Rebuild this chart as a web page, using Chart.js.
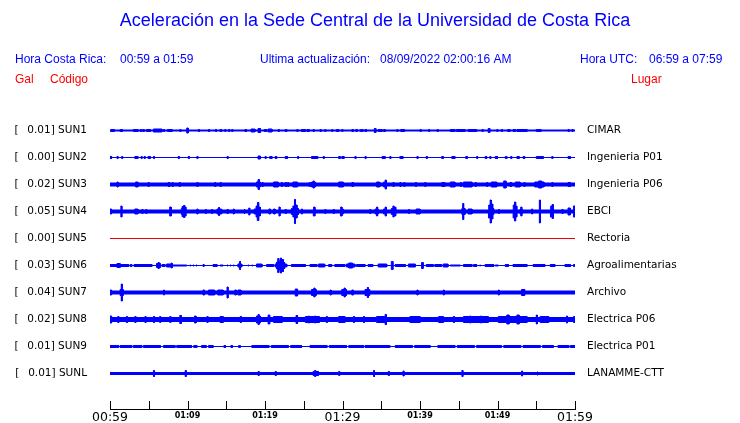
<!DOCTYPE html>
<html>
<head>
<meta charset="utf-8">
<title>Aceleración Sede Central UCR</title>
<script src="https://cdn.jsdelivr.net/npm/chart.js@4.4.1/dist/chart.umd.min.js"></script>
<style>
  html, body { margin: 0; padding: 0; background: #fff; }
  #wrap { width: 740px; height: 423px; }
</style>
</head>
<body>
<div id="wrap"><canvas id="chart" width="740" height="423"></canvas></div>
<script>
// station codes, peak value (gal) and place, top to bottom
const codes = ['SUN1', 'SUN2', 'SUN3', 'SUN4', 'SUN5', 'SUN6', 'SUN7', 'SUN8', 'SUN9', 'SUNL']
const gal = ['0.01', '0.00', '0.02', '0.05', '0.00', '0.03', '0.04', '0.02', '0.01', '0.01']
const places = ['CIMAR', 'Ingenieria P01', 'Ingenieria P06', 'EBCI', 'Rectoria', 'Agroalimentarias',
  'Archivo', 'Electrica P06', 'Electrica P01', 'LANAMME-CTT']

// minutes 0..60 after 00:59, one label every 10 minutes
const timeLabels = ['00:59', '01:09', '01:19', '01:29', '01:39', '01:49', '01:59']

// background noise half-height of each trace
const baseAmp = [1, 0.5, 2, 2, 0.5, 0.5, 2, 2.5, 0.5, 1.5]

// bursts: [start min, end min, half-height] or [min, half-height] for a single spike
const sun1 = [[0.1, 0.55, 1.5], [1.3, 1.6, 1.5], [3.0, 3.6, 1.5], [3.9, 1.5], [4.2, 4.4, 1.5], [4.7, 5.2, 1.5],
  [5.6, 6.7, 2], [6.9, 1.5], [7.4, 8.0, 1.5], [9.0, 1.5], [9.9, 10.1, 3], [11.4, 1.5], [12.7, 1.5], [13.6, 1.5],
  [14.2, 14.4, 1.5], [14.8, 1.5], [15.3, 1.5], [15.7, 1.5], [17.4, 17.6, 1.5], [18.2, 18.7, 2], [19.1, 19.4, 2.5],
  [19.9, 20.2, 1.5], [20.4, 20.9, 2], [21.7, 1.5], [22.6, 22.8, 1.5], [24.1, 1.5], [24.7, 25.2, 1.5],
  [25.4, 25.7, 1.5], [26.2, 1.5], [27.1, 1.5], [27.7, 1.5], [28.6, 1.5], [29.2, 29.5, 1.5], [29.9, 1.5],
  [31.2, 31.4, 1.5], [31.7, 31.9, 1.5], [32.3, 1.5], [32.5, 1.5], [32.9, 33.1, 1.5], [34.1, 34.3, 2.5],
  [34.6, 35.1, 1.5], [35.3, 35.5, 1.5], [37.0, 1.5], [37.5, 38.0, 1.5], [40.0, 1.5], [41.1, 1.5], [42.2, 1.5],
  [43.9, 44.5, 1.5], [44.7, 45.8, 1.5], [46.2, 47.3, 1.5], [48.0, 1.5], [48.8, 49.0, 2.5], [49.9, 1.5], [50.5, 1.5],
  [51.3, 51.6, 1.5], [52.0, 52.3, 1.5], [52.5, 53.8, 1.5], [55.0, 55.6, 1.5], [59.1, 1.5], [59.6, 1.5]]
const sun2 = [[0, 0.2, 1.5], [0.9, 1.5], [1.5, 1.5], [3.2, 3.6, 1.5], [4.0, 1.5], [4.4, 1.5], [4.9, 5.2, 1.5], [5.6, 1.5],
  [8.8, 1.5], [10.1, 1.5], [11.2, 1.5], [15.1, 1.5], [19.1, 19.4, 2], [20.0, 1.5], [20.6, 20.9, 1.5], [21.3, 21.5, 1.5],
  [22.6, 22.9, 1.5], [24.2, 1.5], [26.0, 26.8, 1.5], [27.5, 1.5], [29.5, 29.7, 1.5], [29.9, 30.2, 1.5], [31.6, 1.5],
  [32.9, 1.5], [35.1, 35.5, 1.5], [36.1, 1.5], [37.4, 37.8, 1.5], [39.6, 1.5], [40.8, 1.5], [42.8, 43.0, 1.5],
  [44.1, 44.5, 1.5], [45.9, 46.1, 1.5], [47.3, 1.5], [48.4, 48.6, 1.5], [49.0, 1.5], [49.7, 50.0, 1.5], [51.0, 51.2, 1.5],
  [51.7, 1.5], [52.5, 52.8, 1.5], [53.3, 53.5, 1.5], [55.0, 55.9, 1.5], [57.0, 1.5], [59.1, 59.4, 1.5]]
const sun3 = [[0.9, 3], [3.3, 3.6, 3], [4.9, 2.5], [7.5, 7.7, 2.5], [8.0, 2.5], [8.9, 2.5], [11.2, 2.5], [13.5, 2.5],
  [14.2, 2.5], [18.9, 19.4, 3], [19.1, 19.25, 5.5], [19.6, 2.5], [21.1, 21.7, 3], [22.1, 2.5], [22.6, 2.5], [22.9, 2.5],
  [23.6, 24.2, 3], [25.7, 2.5], [26.0, 26.5, 3], [26.2, 26.35, 4], [29.5, 30.1, 3], [31.2, 31.4, 2.5], [34.4, 34.8, 3],
  [35.3, 35.7, 3], [35.5, 35.65, 5], [36.5, 2.5], [37.4, 2.5], [37.9, 2.5], [39.4, 2.5], [40.6, 2.5], [42.8, 43.2, 2.5],
  [43.9, 44.5, 3], [45.2, 2.5], [45.6, 46.7, 3], [47.1, 2.5], [48.6, 2.5], [49.2, 49.9, 3], [50.8, 51.1, 4],
  [51.6, 51.8, 2.5], [52.3, 52.9, 3], [53.4, 2.5], [54.8, 56.0, 3], [55.3, 55.7, 4], [57.0, 2.5], [59.1, 59.4, 2.5]]
const sun4 = [[0, 0.2, 3], [1.4, 6], [3.2, 3.6, 3], [4.1, 2.5], [4.6, 2.5], [7.7, 7.9, 5], [9.2, 9.8, 3.5], [9.3, 5.5],
  [9.5, 6.5], [9.65, 5], [11.2, 3], [12.3, 2.5], [13.1, 2.5], [13.8, 14.4, 3], [14.0, 4.5], [15.1, 2.5], [15.9, 3],
  [17.3, 17.4, 3], [17.9, 4], [18.6, 19.4, 3], [18.85, 6], [19.05, 9.5], [19.25, 5], [20.5, 20.7, 3], [21.1, 21.3, 3],
  [21.8, 5], [22.6, 2.5], [23.4, 24.3, 3.5], [23.6, 6], [23.8, 12.5], [24.0, 7], [24.7, 3], [26.2, 26.5, 3], [26.3, 5],
  [27.7, 2.5], [28.8, 2.5], [29.7, 30.1, 3], [29.8, 5], [33.5, 2.5], [34.2, 34.6, 3], [34.4, 5], [35.3, 35.7, 3],
  [35.5, 5], [36.3, 36.9, 3.5], [36.5, 6], [36.7, 5], [38.5, 2.5], [39.5, 40.0, 3], [45.4, 45.8, 3.5], [45.5, 8.5],
  [46.2, 46.7, 3], [48.8, 49.5, 3.5], [48.9, 7], [49.05, 12], [49.25, 8], [50.1, 2.5], [52.0, 52.5, 3.5], [52.05, 7],
  [52.2, 10], [52.35, 6], [52.9, 53.2, 3], [53.0, 5], [54.4, 3], [55.4, 12], [56.8, 57.2, 3.5], [56.9, 6], [57.05, 7.5],
  [58.3, 2.5], [59.1, 59.4, 4], [59.8, 60, 6]]
const sun5 = []
const sun6 = [[0, 2.4, 1.5], [0.9, 1.3, 2.5], [2.6, 2.8, 1.5], [3.1, 5.4, 1.5], [6.0, 6.5, 2.5], [6.2, 3.5], [6.7, 7.1, 1.5],
  [7.3, 8.0, 2], [7.9, 3], [8.0, 9.9, 1], [10.3, 1], [10.7, 1], [11.1, 1], [12.0, 1.5], [13.3, 13.8, 1.5], [14.2, 14.6, 1],
  [15.1, 1], [15.5, 1], [15.9, 1], [16.5, 17.0, 2], [16.7, 4.5], [17.8, 1], [18.3, 1], [18.9, 19.6, 2], [20.2, 21.1, 1.5],
  [21.3, 22.8, 2], [21.5, 4], [21.65, 7.5], [21.85, 5], [22.0, 8], [22.2, 6.5], [22.4, 3.5], [23.4, 25.2, 1.5],
  [25.8, 26.7, 1.5], [26.9, 27.7, 2], [28.2, 28.6, 1.5], [29.0, 30.3, 1.5], [30.5, 31.6, 2], [30.8, 31.3, 3],
  [31.8, 32.9, 1.5], [33.3, 33.9, 1.5], [34.6, 35.7, 2], [36.3, 36.5, 4.5], [36.8, 38.1, 1.5], [38.5, 39.4, 2],
  [40.2, 40.4, 3.5], [40.8, 41.7, 1.5], [41.9, 42.8, 1.5], [43.0, 43.6, 2], [43.9, 45.2, 1], [45.6, 46.7, 1.5],
  [46.9, 47.3, 1.5], [47.7, 1], [48.4, 49.5, 1.5], [49.7, 50.1, 1], [51.0, 51.4, 1.5], [52.0, 53.8, 1.5],
  [54.6, 56.1, 1.5], [56.8, 57.4, 1.5], [58.7, 59.4, 1.5], [59.8, 60, 1.5]]
const sun7 = [[0, 0.2, 3], [1.3, 1.7, 3.5], [1.45, 9], [6.9, 3], [12.0, 12.2, 3], [12.7, 13.5, 3], [13.9, 14.6, 3],
  [15.1, 6], [16.1, 16.3, 3], [16.5, 16.9, 3], [23.9, 24.2, 4], [26.0, 26.6, 3.5], [26.3, 5], [28.4, 3],
  [29.9, 30.5, 3.5], [30.2, 5], [31.2, 31.4, 3], [32.9, 33.5, 3.5], [33.2, 5.5], [39.6, 3], [43.0, 3], [50.1, 3],
  [53.1, 53.5, 3.5]]
const sun8 = [[0, 0.2, 4], [1.0, 3.5], [2.1, 3.5], [3.2, 3.5], [4.5, 3.5], [5.6, 3.5], [6.4, 3.5], [7.7, 3.5],
  [9.0, 9.2, 4.5], [10.9, 11.1, 4], [12.5, 3.5], [14.2, 14.6, 3.5], [16.8, 3.5], [18.9, 19.4, 4], [19.1, 5.5],
  [20.4, 20.6, 5], [21.1, 22.2, 3.5], [24.0, 24.2, 4.5], [25.2, 27.0, 3.5], [25.6, 4], [26.4, 4], [27.9, 3.5],
  [29.5, 30.3, 3.5], [31.4, 3.5], [32.7, 3.5], [34.4, 35.7, 3.5], [35.5, 5.5], [38.7, 40.0, 3.5], [42.4, 43.0, 3.5],
  [44.3, 3.5], [45.6, 48.8, 3.5], [46.4, 4], [47.8, 4], [50.1, 53.8, 3.5], [51.2, 51.5, 5], [52.5, 52.8, 5], [55.0, 5],
  [55.5, 56.6, 3.5], [58.9, 4], [59.8, 3.5]]
const sun9 = [[0, 1.1, 1.5], [1.3, 2.8, 1.5], [3.0, 4.1, 1.5], [4.3, 6.5, 1.5], [6.9, 8.4, 1.5], [8.6, 10.5, 1.5],
  [10.8, 11.2, 1.5], [11.8, 12.4, 1.5], [12.7, 13.3, 1.5], [14.7, 14.9, 1.5], [15.6, 15.8, 1.5], [16.6, 16.8, 1.5],
  [18.3, 20.5, 1.5], [20.8, 23.0, 1.5], [23.3, 24.7, 1.5], [25.8, 28.0, 1.5], [28.3, 30.5, 1.5], [30.8, 32.7, 1.5],
  [32.9, 36.1, 1.5], [36.8, 39.0, 1.5], [39.3, 41.3, 1.5], [42.3, 44.5, 1.5], [44.8, 47.0, 1.5], [47.3, 50.5, 1.5],
  [50.8, 53.0, 1.5], [53.3, 55.5, 1.5], [55.8, 57.2, 1.5], [57.8, 59.2, 1.5], [59.4, 60, 1.5]]
const sunL = [[5.6, 3.5], [9.7, 3.5], [19.1, 2.5], [21.3, 2.5], [26.2, 26.9, 2.5], [26.4, 3.5], [29.5, 2.5], [34.0, 3.5],
  [35.9, 2.5], [37.8, 3], [45.4, 3.5], [53.1, 3], [55.1, 2]]
const bursts = [sun1, sun2, sun3, sun4, sun5, sun6, sun7, sun8, sun9, sunL]

const title = 'Aceleración en la Sede Central de la Universidad de Costa Rica'
const localHours = '00:59 a 01:59'
const utcHours = '06:59 a 07:59'
const updated = '08/09/2022 02:00:16 AM'

const BLUE = '#0000ff'
const RED = '#ee0000'
const ROW = 27
const SPIKE = 0.13

// step envelope: max half-height on every stretch between burst edges
function envelope(base, list) {
  const blocks = list.map(b => b.length === 2 ? [b[0], b[0] + SPIKE, b[1]] : b)
  const edges = [0, 60]
  blocks.forEach(b => edges.push(b[0], Math.min(60, b[1])))
  const xs = [...new Set(edges)].sort((a, b) => a - b)
  const pts = []
  for (let i = 0; i < xs.length - 1; i++) {
    const mid = (xs[i] + xs[i + 1]) / 2
    let a = base
    blocks.forEach(b => { if (mid >= b[0] && mid <= b[1]) a = Math.max(a, b[2]) })
    pts.push([xs[i], a], [xs[i + 1], a])
  }
  return pts
}

// one closed outline per trace: top edge left to right, bottom edge back
const datasets = codes.map((code, i) => {
  const center = i * ROW
  const flat = bursts[i].length === 0
  const color = flat ? RED : BLUE
  const pts = envelope(baseAmp[i], bursts[i])
  const top = pts.map(([x, a]) => ({ x: x, y: center - Math.max(0, a - 0.5) }))
  const bottom = pts.map(([x, a]) => ({ x: x, y: center + Math.max(0, a - 0.5) })).reverse()
  return {
    label: code,
    data: flat ? [{ x: 0, y: center }, { x: 60, y: center }] : top.concat(bottom),
    borderColor: color,
    backgroundColor: color,
    borderWidth: 1,
    pointRadius: 0,
    tension: 0,
    fill: flat ? false : 'shape'
  }
})

const headerPlugin = {
  id: 'header',
  beforeDraw(chart) {
    const ctx = chart.ctx
    ctx.save()
    ctx.fillStyle = '#fff'
    ctx.fillRect(0, 0, chart.width, chart.height)
    ctx.textBaseline = 'middle'
    ctx.fillStyle = BLUE
    ctx.font = '18px "Liberation Sans", Arial, sans-serif'
    ctx.textAlign = 'center'
    ctx.fillText(title, 375, 21)
    ctx.textAlign = 'left'
    ctx.font = '12px "Liberation Sans", Arial, sans-serif'
    ctx.fillText('Hora Costa Rica:', 15, 60)
    ctx.fillText(localHours, 120, 60)
    ctx.fillText('Ultima actualización:', 260, 60)
    ctx.fillText(updated, 380, 60)
    ctx.fillText('Hora UTC:', 580, 60)
    ctx.fillText(utcHours, 649, 60)
    ctx.fillStyle = '#ff0000'
    ctx.fillText('Gal', 15, 80)
    ctx.fillText('Código', 50, 80)
    ctx.fillText('Lugar', 631, 80)
    ctx.restore()
  },
  afterDraw(chart) {
    // tick marks stand up from the time axis
    const x = chart.scales.x
    const ctx = chart.ctx
    ctx.save()
    ctx.strokeStyle = '#000'
    ctx.lineWidth = 1
    ctx.beginPath()
    x.ticks.forEach(t => {
      const px = Math.round(x.getPixelForValue(t.value)) + 0.5
      ctx.moveTo(px, x.top - 8)
      ctx.lineTo(px, x.top)
    })
    ctx.stroke()
    ctx.restore()
  }
}

const rowTicks = scale => { scale.ticks = codes.map((c, i) => ({ value: i * ROW })) }
// the row labels must not push the plot area around
const fixWidth = w => scale => {
  scale.width = w
  scale.paddingTop = 0
  scale.paddingBottom = 0
}
const labelFont = { family: '"DejaVu Sans", sans-serif', size: 10.5 }

new Chart(document.getElementById('chart'), {
  type: 'line',
  data: { datasets: datasets },
  options: {
    responsive: false,
    animation: false,
    events: [],
    layout: { padding: { top: 115, left: 0, right: 0, bottom: 0 } },
    plugins: { legend: { display: false }, tooltip: { enabled: false }, title: { display: false } },
    scales: {
      x: {
        type: 'linear',
        min: 0,
        max: 60,
        afterFit: scale => { scale.height = 14 },
        grid: { display: false, drawTicks: false },
        border: { display: true, color: '#000', width: 1 },
        ticks: {
          stepSize: 5,
          autoSkip: false,
          maxRotation: 0,
          padding: 1,
          color: '#000',
          callback: v => v % 10 === 0 ? timeLabels[v / 10] : '',
          font: ctx => (ctx.tick && ctx.tick.value % 30 === 0)
            ? { family: '"DejaVu Sans", sans-serif', size: 12.5, lineHeight: 1.2 }
            : { family: '"DejaVu Sans", sans-serif', size: 8, weight: 'bold', lineHeight: 1.6 }
        }
      },
      y: {
        type: 'linear',
        position: 'left',
        reverse: true,
        min: -15.5,
        max: 278.5,
        afterFit: fixWidth(110),
        afterBuildTicks: rowTicks,
        grid: { display: false, drawTicks: false },
        border: { display: false },
        ticks: {
          autoSkip: false,
          padding: 23,
          color: '#000',
          font: labelFont,
          callback: (v, i) => '[  \u2009' + gal[i] + '] ' + codes[i]
        }
      },
      y2: {
        type: 'linear',
        position: 'right',
        reverse: true,
        min: -15.5,
        max: 278.5,
        afterFit: fixWidth(165),
        afterBuildTicks: rowTicks,
        grid: { display: false, drawTicks: false },
        border: { display: false },
        ticks: {
          autoSkip: false,
          padding: 12,
          color: '#000',
          font: labelFont,
          callback: (v, i) => places[i]
        }
      }
    }
  },
  plugins: [headerPlugin]
})
</script>
</body>
</html>
